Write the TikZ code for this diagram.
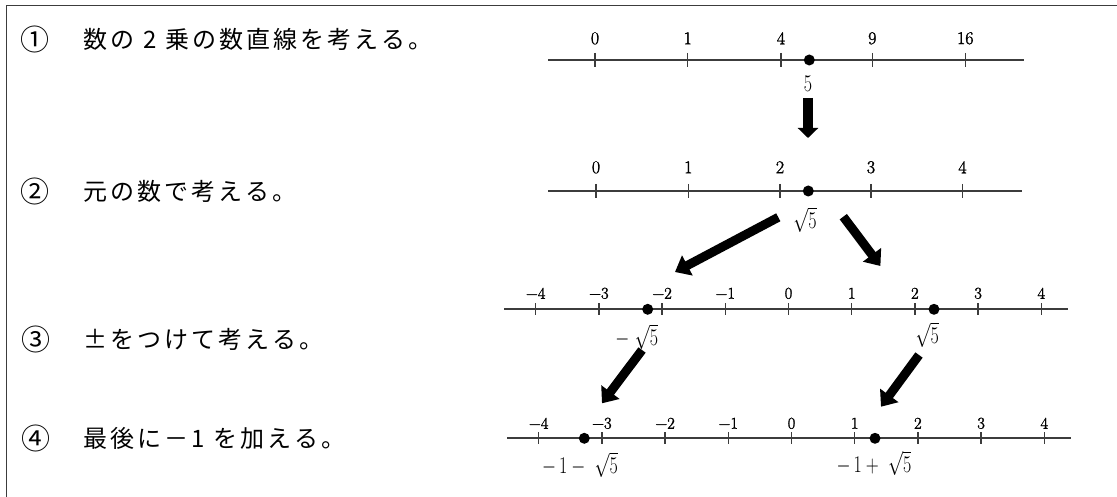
\RequirePackage{fix-cm}
\documentclass[tikz,border=0pt]{standalone}
\usepackage{fontspec}
\newfontfamily\jp{Noto Sans CJK JP}
\newfontfamily\labfont[FakeBold=1.6]{Latin Modern Roman}
\usetikzlibrary{arrows.meta}
\definecolor{axis}{HTML}{3C3C3C}
\newdimen\jgap \jgap=3pt
\def\spreadtext#1{\spreadstep#1\relax}
\def\spreadstep#1{\ifx\relax#1\else#1\kern\jgap\expandafter\spreadstep\fi}
\newcommand\cond[1]{\scalebox{0.75}[1]{#1}}
\begin{document}
\begin{tikzpicture}[x=1pt,y=-1pt,
  axisline/.style={draw=axis,line width=2pt},
  tickmark/.style={draw=axis,line width=1.4pt},
  numlab/.style={font=\labfont\fontsize{18}{18}\selectfont,inner sep=0pt},
  smallnum/.style={font=\labfont\fontsize{16.5}{16.5}\selectfont,inner sep=0pt},
  ptdot/.style={circle,fill=black,inner sep=0pt,minimum size=11pt},
  sublab/.style={font=\fontsize{24}{24}\selectfont,inner sep=0pt},
  jtext/.style={font=\jp\fontsize{24}{24}\selectfont,inner sep=0pt,anchor=west},
  jnum/.style={font=\jp\fontsize{29}{29}\selectfont,inner sep=0pt},
  bigarrow/.style={line width=10.5pt,-{Triangle[length=10pt,width=20pt]}},
  diagarrow/.style={line width=9pt,-{Triangle[length=14pt,width=22pt]}},
  framestyle/.style={draw=axis,line width=1.3pt}
]
\useasboundingbox (0,0) rectangle (1117,497);
% frame
\coordinate (fbl) at (6.4,497);
\coordinate (ftl) at (6.4,5.4);
\coordinate (ftr) at (1117,5.4);
\draw[framestyle] (fbl) -- (ftl) -- (ftr);

% Japanese texts
\node[jnum] (n1) at (35,39.3) {①};
\node[jtext] (j1) at (83,39.3) {\spreadtext{数の{\kern6pt 2\kern6pt}乗の数直線を考える。}};
\node[jnum] (n2) at (35,191.7) {②};
\node[jtext] (j2) at (83,191.7) {\spreadtext{元の数で考える。}};
\node[jnum] (n3) at (36,339.3) {③};
\node[jtext] (j3) at (83,339.3) {\spreadtext{±をつけて考える。}};
\node[jnum] (n4) at (36,438.3) {④};
\node[jtext] (j4) at (83,438.3) {\spreadtext{最後に－{1\kern6pt}を加える。}};

% line 1
\coordinate (l1a) at (548,60);
\coordinate (l1b) at (1024,60);
\draw[axisline] (l1a) -- (l1b);
\foreach \x/\t [count=\i] in {595/0,687.7/1,781/4,872.3/9,965.3/16}{
  \draw[tickmark] (\x,53) -- (\x,67);
  \node[numlab] (ta\i) at (\x,38.3) {\t};
}
\node[ptdot] (d1) at (809.3,60) {};
\node[sublab] (s1) at (808,83.3) {\cond{5}};

% down arrow
\coordinate (a1s) at (808,98);
\coordinate (a1e) at (808,138);
\draw[bigarrow] (a1s) -- (a1e);

% line 2
\coordinate (l2a) at (548,191);
\coordinate (l2b) at (1022,191);
\draw[axisline] (l2a) -- (l2b);
\foreach \x/\t [count=\i] in {596/0,688.3/1,780/2,871/3,962.5/4}{
  \draw[tickmark] (\x,184) -- (\x,198);
  \node[numlab] (tb\i) at (\x,167.3) {\t};
}
\node[ptdot] (d2) at (808.3,191) {};
\node[sublab] (s2) at (805,220) {\cond{$\sqrt{5}$}};

% diagonal arrows
\coordinate (a2s) at (778.3,217.3);
\coordinate (a2e) at (675,272);
\draw[diagarrow] (a2s) -- (a2e);
\coordinate (a3s) at (843.3,216.7);
\coordinate (a3e) at (880.4,266);
\draw[diagarrow] (a3s) -- (a3e);

% line 3
\coordinate (l3a) at (504,309.3);
\coordinate (l3b) at (1068.3,309.3);
\draw[axisline] (l3a) -- (l3b);
\foreach \t [count=\i from 0] in {−4,−3,−2,−1,0,1,2,3,4}{
  \pgfmathsetmacro\xx{535.7+63.2*\i}
  \draw[tickmark] (\xx,303.3) -- (\xx,315.3);
  \node[smallnum] (tc\i) at (\xx,293.3) {\t};
}
\node[ptdot] (d3a) at (647.7,309.3) {};
\node[ptdot] (d3b) at (934,309.3) {};
\node[sublab] (s3a) at (636.7,336.7) {\cond{$-\ \sqrt{5}$}};
\node[sublab] (s3b) at (927.3,335) {\cond{$\sqrt{5}$}};

% lower arrows
\coordinate (a4s) at (642,350);
\coordinate (a4e) at (602,403.3);
\draw[diagarrow] (a4s) -- (a4e);
\coordinate (a5s) at (919,355);
\coordinate (a5e) at (881,406.7);
\draw[diagarrow] (a5s) -- (a5e);

% line 4
\coordinate (l4a) at (507.3,438.3);
\coordinate (l4b) at (1071,438.3);
\draw[axisline] (l4a) -- (l4b);
\foreach \t [count=\i from 0] in {−4,−3,−2,−1,0,1,2,3,4}{
  \pgfmathsetmacro\xx{538.7+63.2*\i}
  \draw[tickmark] (\xx,432.3) -- (\xx,444.3);
  \node[smallnum] (td\i) at (\xx,423.3) {\t};
}
\node[ptdot] (d4a) at (584.3,438.3) {};
\node[ptdot] (d4b) at (875,438.3) {};
\node[sublab] (s4a) at (580,465) {\cond{$-\,1-\ \sqrt{5}$}};
\node[sublab] (s4b) at (874,463.3) {\cond{$-\,1+\ \sqrt{5}$}};
\end{tikzpicture}
\end{document}
